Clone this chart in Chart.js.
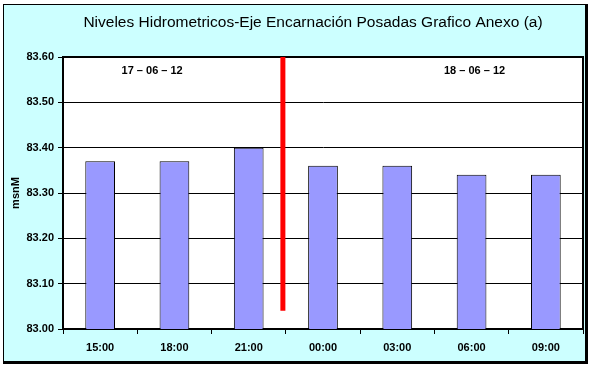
<!DOCTYPE html>
<html><head><meta charset="utf-8">
<script src="https://cdn.jsdelivr.net/npm/chart.js@4/dist/chart.umd.min.js"></script>
<style>html,body{margin:0;padding:0;background:#fff;} #wrap{width:595px;height:368px;}</style>
</head><body><div id="wrap"><canvas id="c" width="595" height="368"></canvas></div>
<script>
// ---- data ----
const categories = ['15:00', '18:00', '21:00', '00:00', '03:00', '06:00', '09:00'];
const levels = [83.37, 83.37, 83.40, 83.36, 83.36, 83.34, 83.34];
const yTicks = [83.00, 83.10, 83.20, 83.30, 83.40, 83.50, 83.60];
const dateLabels = ['17 – 06 – 12', '18 – 06 – 12'];
const dayBreakRange = [83.04, 83.60];
const titleText = 'Niveles Hidrometricos-Eje Encarnación Posadas Grafico Anexo (a)';
const yAxisTitle = 'msnM';

// ---- annotation placement (in scale units) ----
const dateLabelPos = [{x: 0.70, y: 83.57}, {x: 5.04, y: 83.57}];
const dayBreakX = 2.46;

const FONT = 'Arial, "Liberation Sans", sans-serif';

const decor = {
  id: 'decor',
  beforeDraw(chart) {
    const ctx = chart.ctx, a = chart.chartArea;
    ctx.save();
    ctx.fillStyle = '#ffffff';
    ctx.fillRect(0, 0, chart.width, chart.height);
    ctx.fillStyle = '#CCFFFF';
    ctx.fillRect(3, 4, 582, 357);
    ctx.fillStyle = '#ffffff';
    ctx.fillRect(a.left, a.top, a.right - a.left, a.bottom - a.top);
    // title
    ctx.fillStyle = '#000';
    ctx.font = '15.5px ' + FONT;
    ctx.textAlign = 'center';
    ctx.textBaseline = 'middle';
    ctx.fillText(titleText, 313, 23);
    ctx.restore();
  },
  afterDatasetsDraw(chart) {
    const ctx = chart.ctx, a = chart.chartArea;
    const xs = chart.scales.x, ys = chart.scales.y;
    ctx.save();
    ctx.strokeStyle = '#000';
    ctx.lineWidth = 2;
    ctx.beginPath();
    ctx.moveTo(a.left, a.top); ctx.lineTo(a.right, a.top); ctx.lineTo(a.right, a.bottom);
    ctx.stroke();
    const rx = xs.getPixelForValue(dayBreakX);
    ctx.strokeStyle = '#FF0000';
    ctx.lineWidth = 5;
    ctx.lineCap = 'butt';
    ctx.beginPath();
    ctx.moveTo(rx, ys.getPixelForValue(dayBreakRange[1]));
    ctx.lineTo(rx, ys.getPixelForValue(dayBreakRange[0]));
    ctx.stroke();
    ctx.fillStyle = '#000';
    ctx.font = 'bold 11px ' + FONT;
    ctx.textAlign = 'center';
    ctx.textBaseline = 'middle';
    dateLabels.forEach((t, i) => {
      ctx.fillText(t, xs.getPixelForValue(dateLabelPos[i].x), ys.getPixelForValue(dateLabelPos[i].y));
    });
    ctx.restore();
  },
  afterDraw(chart) {
    const ctx = chart.ctx;
    ctx.save();
    ctx.fillStyle = '#000';
    ctx.fillRect(3, 4, 1, 357);   // left
    ctx.fillRect(3, 4, 582, 1);   // top
    ctx.fillRect(585, 4, 3, 360); // right (shadowed)
    ctx.fillRect(3, 361, 585, 3); // bottom (shadowed)
    ctx.restore();
  }
};

new Chart(document.getElementById('c'), {
  type: 'bar',
  data: {
    labels: categories,
    datasets: [{
      data: levels,
      backgroundColor: '#9999FF',
      borderColor: '#000000',
      borderWidth: 1,
      borderSkipped: 'bottom',
      categoryPercentage: 1,
      barPercentage: 0.4
    }]
  },
  options: {
    responsive: false,
    devicePixelRatio: 1,
    animation: false,
    layout: {padding: {left: 0, right: 12, top: 57, bottom: 0}},
    plugins: {
      legend: {display: false},
      tooltip: {enabled: false},
      title: {display: false}
    },
    scales: {
      x: {
        grid: {display: true, drawOnChartArea: false, drawTicks: true, tickLength: 5, tickColor: '#000', offset: true},
        border: {display: true, color: '#000', width: 2},
        ticks: {color: '#000', font: {family: FONT, size: 11, weight: 'bold'}, padding: 7, maxRotation: 0},
        afterFit(s) { s.height = 39; }
      },
      y: {
        min: 83.0, max: 83.6,
        afterBuildTicks(s) { s.ticks = yTicks.map(v => ({value: v})); },
        grid: {color: '#000', lineWidth: 1, drawTicks: true, tickLength: 5, tickColor: '#000'},
        border: {display: true, color: '#000', width: 2},
        ticks: {color: '#000', font: {family: FONT, size: 11, weight: 'bold'}, padding: 4,
                callback: v => Number(v).toFixed(2)},
        title: {display: true, text: yAxisTitle, color: '#000',
                font: {family: FONT, size: 11, weight: 'bold'}, padding: {top: 9, bottom: 0}},
        afterFit(s) { s.width = 63; }
      }
    }
  },
  plugins: [decor]
});
</script></body></html>
